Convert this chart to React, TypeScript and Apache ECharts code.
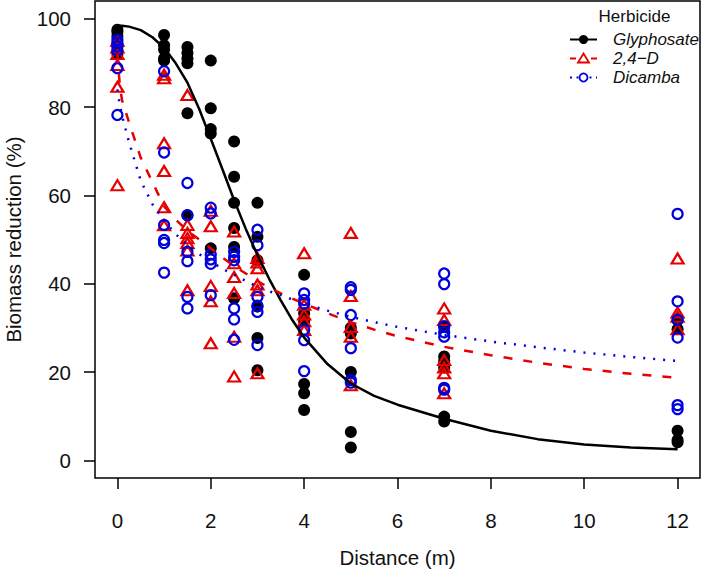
import React, { useEffect, useRef } from "react";
import * as echarts from "echarts";

// ---- Data ----
const distances = [0, 1, 1.5, 2, 2.5, 3, 4, 5, 7, 12];

const glyphosateObs = [
  [97.5, 97, 96, 94, 92.5, 92],
  [96.3, 94, 93, 91, 90.5],
  [93.6, 92.2, 91, 89.9, 78.6, 55.5],
  [90.5, 79.7, 75, 74, 48],
  [72.2, 64.2, 58.3, 52.6, 48.3, 36.7],
  [58.3, 50.6, 45.3, 34.8, 27.7, 20.4],
  [42, 33.3, 31.5, 17.3, 15.2, 11.4],
  [30, 28.7, 20, 6.4, 2.9],
  [30.2, 23.5, 22.5, 21, 9.9, 8.8],
  [31.8, 29.7, 6.7, 4.6, 4.1],
];

const d24Obs = [
  [95, 93.5, 92, 89.5, 84.6, 62.3],
  [87.3, 86.5, 71.8, 65.5, 57.3, 53.2],
  [82.7, 53.3, 51.5, 50.3, 49.2, 47.5, 38.5],
  [56.5, 53, 39.5, 36, 26.5],
  [51.8, 44.6, 41.5, 37.9, 28, 19],
  [45.8, 44.8, 43.5, 39.8, 38.5, 19.7],
  [46.9, 35.2, 33, 31.5, 29.5],
  [51.5, 37.2, 30.2, 28, 17],
  [34.4, 31.8, 22.7, 21, 19.7, 15.2],
  [45.7, 33.5, 32.5, 29.7],
];

const dicambaObs = [
  [95.2, 94.5, 93.7, 92.8, 88.8, 78.2],
  [88.1, 69.7, 53.3, 49.9, 49.2, 42.5],
  [62.8, 55.5, 47.2, 45.1, 37, 34.4],
  [57.2, 55.9, 46.6, 45.5, 44.5, 37.4],
  [47.2, 46.1, 45.3, 34.4, 31.9, 27.3],
  [52.2, 48.7, 37, 35, 33.6, 26.1],
  [37.8, 36.3, 35.5, 29.6, 27.2, 20.2],
  [39.2, 38.6, 32.9, 25.4, 18.2, 17.6],
  [42.3, 39.9, 30.4, 29, 28, 16.4, 16],
  [55.8, 36, 31.8, 27.8, 12.5, 11.6],
];

const curveX = [0, 0.05, 0.1, 0.25, 0.5, 0.75, 1, 1.25, 1.5, 1.75, 2, 2.25, 2.5, 2.75, 3, 3.25, 3.5, 3.75, 4, 4.5, 5, 5.5, 6, 7, 8, 9, 10, 11, 12];
const glyphosateFit = [98.3, 98.35, 98.4, 98.2, 97.4, 95.8, 93.4, 89.9, 85.5, 79.6, 72.8, 65.9, 58.9, 52.4, 46.5, 41.1, 36.2, 31.7, 27.8, 21.8, 17.4, 14.6, 12.6, 9.4, 6.7, 4.8, 3.6, 2.9, 2.5];
const d24Fit = [92, 85, 81.5, 76.5, 68.5, 63, 57.5, 54.5, 52, 50, 48, 45.9, 44, 42.3, 40.6, 39.1, 37.8, 36.6, 35.5, 33.3, 31.3, 29.6, 28.1, 25.7, 23.8, 22.1, 20.7, 19.6, 18.7];
const dicambaFit = [84, 80.5, 78, 72, 63.3, 58, 54.3, 51.2, 48.8, 46.7, 45, 43.4, 42, 40.6, 39.3, 38.3, 37.4, 36.4, 35.5, 33.9, 32.5, 31.3, 30.2, 28.4, 26.9, 25.6, 24.4, 23.4, 22.5];

const xTicks = [0, 2, 4, 6, 8, 10, 12];
const yTicks = [0, 20, 40, 60, 80, 100];

const seriesNames = ["Glyphosate", "2,4\u2212D", "Dicamba"];
const legendTitle = "Herbicide";
const xTitle = "Distance (m)";
const yTitle = "Biomass reduction (%)";

const BLACK = "#000000";
const RED = "#E60000";
const BLUE = "#0000DD";
const FONT = "'Liberation Sans', Arial, Helvetica, sans-serif";
const AXIS_FS = 20.5;
const LEG_FS = 17;

const toPairs = (obs: number[][]) =>
  distances.flatMap((d, i) => obs[i].map((v) => [d, v]));
const curvePairs = (fit: number[]) => curveX.map((x, i) => [x, fit[i]]);

export default function App() {
  const ref = useRef<HTMLDivElement>(null);

  useEffect(() => {
    if (!ref.current) return;
    const chart = echarts.init(ref.current, null, { renderer: "svg" });

    const rowY = [39.5, 58.5, 77.5];
    const lx0 = 570;
    const lx1 = 597;
    const lxm = 583.5;
    const tx = 613;

    const option: any = {
      animation: false,
      backgroundColor: "#ffffff",
      grid: {
        left: 95,
        top: 1,
        width: 605,
        height: 477,
        show: true,
        borderColor: BLACK,
        borderWidth: 1.5,
        backgroundColor: "transparent",
        containLabel: false,
        outerBoundsMode: "none",
      },
      xAxis: {
        type: "value",
        min: -0.48,
        max: 12.48,
        axisLine: { show: false, onZero: false },
        splitLine: { show: false },
        axisTick: {
          show: true,
          inside: false,
          customValues: xTicks,
          length: 11,
          lineStyle: { color: BLACK, width: 1.5 },
        },
        axisLabel: {
          show: true,
          customValues: xTicks,
          margin: 32,
          color: "#111",
          fontSize: AXIS_FS,
          fontFamily: FONT,
        },
      },
      yAxis: {
        type: "value",
        min: -4,
        max: 104,
        axisLine: { show: false, onZero: false },
        splitLine: { show: false },
        axisTick: {
          show: true,
          inside: false,
          customValues: yTicks,
          length: 11,
          lineStyle: { color: BLACK, width: 1.5 },
        },
        axisLabel: {
          show: true,
          customValues: yTicks,
          margin: 24,
          color: "#111",
          fontSize: AXIS_FS,
          fontFamily: FONT,
        },
      },
      series: [
        {
          name: seriesNames[0],
          type: "scatter",
          data: toPairs(glyphosateObs),
          symbol: "circle",
          symbolSize: 12,
          itemStyle: { color: BLACK, opacity: 1 },
          silent: true,
        },
        {
          name: seriesNames[1],
          type: "scatter",
          data: toPairs(d24Obs),
          symbol: "triangle",
          symbolSize: [12, 10],
          itemStyle: { color: "transparent", borderColor: RED, borderWidth: 2.2, opacity: 1 },
          silent: true,
        },
        {
          name: seriesNames[2],
          type: "scatter",
          data: toPairs(dicambaObs),
          symbol: "circle",
          symbolSize: 10,
          itemStyle: { color: "transparent", borderColor: BLUE, borderWidth: 2.2, opacity: 1 },
          silent: true,
        },
        {
          name: seriesNames[0] + " fit",
          type: "line",
          data: curvePairs(glyphosateFit),
          showSymbol: false,
          symbol: "none",
          smooth: false,
          lineStyle: { color: BLACK, width: 2.5 },
          silent: true,
        },
        {
          name: seriesNames[1] + " fit",
          type: "line",
          data: curvePairs(d24Fit),
          showSymbol: false,
          symbol: "none",
          smooth: false,
          lineStyle: { color: RED, width: 2.5, type: [9, 11] },
          silent: true,
        },
        {
          name: seriesNames[2] + " fit",
          type: "line",
          data: curvePairs(dicambaFit),
          showSymbol: false,
          symbol: "none",
          smooth: false,
          lineStyle: { color: BLUE, width: 2.5, type: [2, 8] },
          silent: true,
        },
      ],
      graphic: [
        {
          type: "text",
          x: 13,
          y: 239.5,
          rotation: Math.PI / 2,
          style: {
            text: yTitle,
            fontSize: AXIS_FS,
            fontFamily: FONT,
            fill: "#111",
            textAlign: "center",
            textVerticalAlign: "middle",
          },
        },
        {
          type: "text",
          x: 397.5,
          y: 557,
          style: {
            text: xTitle,
            fontSize: AXIS_FS,
            fontFamily: FONT,
            fill: "#111",
            textAlign: "center",
            textVerticalAlign: "middle",
          },
        },
        {
          type: "text",
          x: 634.5,
          y: 16.5,
          style: {
            text: legendTitle,
            fontSize: LEG_FS,
            fontFamily: FONT,
            fill: "#111",
            textAlign: "center",
            textVerticalAlign: "middle",
          },
        },
        // Glyphosate legend row
        {
          type: "line",
          shape: { x1: lx0, y1: rowY[0], x2: lx1, y2: rowY[0] },
          style: { stroke: BLACK, lineWidth: 2 },
        },
        {
          type: "circle",
          shape: { cx: lxm, cy: rowY[0], r: 4.5 },
          style: { fill: BLACK },
        },
        // 2,4-D legend row
        {
          type: "line",
          shape: { x1: lx0, y1: rowY[1], x2: lx1, y2: rowY[1] },
          style: { stroke: RED, lineWidth: 2, lineDash: [6, 15] },
        },
        {
          type: "polygon",
          shape: {
            points: [
              [lxm - 5.5, rowY[1] + 4],
              [lxm + 5.5, rowY[1] + 4],
              [lxm, rowY[1] - 5],
            ],
          },
          style: { fill: "none", stroke: RED, lineWidth: 1.8 },
        },
        // Dicamba legend row
        {
          type: "line",
          shape: { x1: lx0, y1: rowY[2], x2: lx1, y2: rowY[2] },
          style: { stroke: BLUE, lineWidth: 2, lineDash: [2, 4.5] },
        },
        {
          type: "circle",
          shape: { cx: lxm, cy: rowY[2], r: 4 },
          style: { fill: "#fff", stroke: BLUE, lineWidth: 1.8 },
        },
        ...seriesNames.map((n, i) => ({
          type: "text",
          x: tx,
          y: rowY[i],
          style: {
            text: n,
            fontSize: LEG_FS,
            fontStyle: "italic",
            fontFamily: FONT,
            fill: "#111",
            textAlign: "left",
            textVerticalAlign: "middle",
          },
        })),
      ],
    };

    chart.setOption(option);
    return () => chart.dispose();
  }, []);

  return (
    <div
      ref={ref}
      style={{ position: "fixed", left: 0, top: 0, width: 704, height: 570, background: "#fff" }}
    />
  );
}
